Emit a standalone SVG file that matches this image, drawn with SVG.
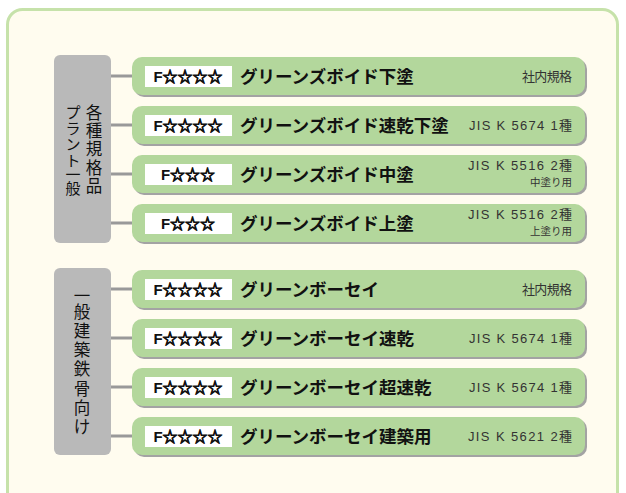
<svg xmlns="http://www.w3.org/2000/svg" width="626" height="493" viewBox="0 0 626 493">
<defs>
<style>
.panel{fill:#fffcef;stroke:#c6e2aa;stroke-width:3}
.cat{fill:#b9b9b9}
.conn{stroke:#999999;stroke-width:3;fill:none}
.shadow{fill:#a3a3a3}
.bar{fill:#b3d79c}
.lbl{fill:#ffffff}
.grade{font-family:"Liberation Sans","Noto Sans CJK JP",sans-serif;font-weight:700;font-size:15px;fill:#111;text-anchor:middle}
.st{font-family:"Noto Sans CJK JP",sans-serif;font-weight:700;stroke:#111;stroke-width:0.9;stroke-linejoin:round}
.name{font-family:"Noto Sans CJK JP",sans-serif;font-weight:700;font-size:17.5px;fill:#111;dominant-baseline:central}
.std{font-family:"Liberation Sans","Noto Sans CJK JP",sans-serif;font-size:13px;fill:#333;text-anchor:end;dominant-baseline:central}
.sub{font-family:"Noto Sans CJK JP",sans-serif;font-size:10.5px;fill:#333;text-anchor:end;dominant-baseline:central}
.vt{font-family:"Noto Sans CJK JP",sans-serif;font-size:16.5px;fill:#111;text-anchor:middle;dominant-baseline:central}
.vk{font-family:"Noto Sans CJK JP",sans-serif;font-size:15px;fill:#111;text-anchor:middle;dominant-baseline:central}
</style>
</defs>
<rect class="panel" x="7.5" y="9.5" width="610" height="500" rx="15"/>

<g id="connectors">
<line class="conn" x1="111" y1="76" x2="134" y2="76"/>
<line class="conn" x1="111" y1="125" x2="134" y2="125"/>
<line class="conn" x1="111" y1="174" x2="134" y2="174"/>
<line class="conn" x1="111" y1="223" x2="134" y2="223"/>
<line class="conn" x1="111" y1="289" x2="134" y2="289"/>
<line class="conn" x1="111" y1="338" x2="134" y2="338"/>
<line class="conn" x1="111" y1="387" x2="134" y2="387"/>
<line class="conn" x1="111" y1="436" x2="134" y2="436"/>
</g>

<g id="cat-plant">
<rect class="cat" x="54" y="55" width="57" height="188" rx="6"/>
<text class="vt" x="94" y="112">各</text>
<text class="vt" x="94" y="130">種</text>
<text class="vt" x="94" y="148">規</text>
<text class="vt" x="94" y="167">格</text>
<text class="vt" x="94" y="185">品</text>
<text class="vk" x="73" y="111">プ</text>
<text class="vk" x="73" y="127">ラ</text>
<text class="vk" x="73" y="143">ン</text>
<text class="vk" x="73" y="159">ト</text>
<text class="vk" x="73" y="173">一</text>
<text class="vk" x="73" y="187">般</text>
</g>

<g id="cat-building">
<rect class="cat" x="54" y="268" width="57" height="187" rx="6"/>
<text class="vt" x="82" y="295">一</text>
<text class="vt" x="82" y="311">般</text>
<text class="vt" x="82" y="330">建</text>
<text class="vt" x="82" y="349">築</text>
<text class="vt" x="82" y="368">鉄</text>
<text class="vt" x="82" y="388">骨</text>
<text class="vt" x="82" y="407">向</text>
<text class="vt" x="82" y="426">け</text>
</g>

<g id="p1">
<rect class="shadow" x="134" y="59" width="453" height="38" rx="10"/>
<rect class="bar" x="132" y="57" width="453" height="38" rx="10"/>
<rect class="lbl" x="145" y="66" width="87" height="21"/>
<text class="grade" x="188" y="81.5">F<tspan class="st">☆☆☆☆</tspan></text>
<text class="name" x="240" y="75.5">グリーンズボイド下塗</text>
<text class="std" x="572" y="76.5" textLength="50" lengthAdjust="spacing">社内規格</text>
</g>

<g id="p2">
<rect class="shadow" x="134" y="108" width="453" height="38" rx="10"/>
<rect class="bar" x="132" y="106" width="453" height="38" rx="10"/>
<rect class="lbl" x="145" y="115" width="87" height="21"/>
<text class="grade" x="188" y="130.5">F<tspan class="st">☆☆☆☆</tspan></text>
<text class="name" x="240" y="124.5">グリーンズボイド速乾下塗</text>
<text class="std" x="572" y="125" textLength="103" lengthAdjust="spacing">JIS K 5674 1種</text>
</g>

<g id="p3">
<rect class="shadow" x="134" y="157" width="453" height="38" rx="10"/>
<rect class="bar" x="132" y="155" width="453" height="38" rx="10"/>
<rect class="lbl" x="145" y="164" width="87" height="21"/>
<text class="grade" x="188" y="179.5">F<tspan class="st">☆☆☆</tspan></text>
<text class="name" x="240" y="173.5">グリーンズボイド中塗</text>
<text class="std" x="572" y="165.5" textLength="104" lengthAdjust="spacing">JIS K 5516 2種</text>
<text class="sub" x="572" y="181.5">中塗り用</text>
</g>

<g id="p4">
<rect class="shadow" x="134" y="206" width="453" height="38" rx="10"/>
<rect class="bar" x="132" y="204" width="453" height="38" rx="10"/>
<rect class="lbl" x="145" y="213" width="87" height="21"/>
<text class="grade" x="188" y="228.5">F<tspan class="st">☆☆☆</tspan></text>
<text class="name" x="240" y="222.5">グリーンズボイド上塗</text>
<text class="std" x="572" y="214.5" textLength="104" lengthAdjust="spacing">JIS K 5516 2種</text>
<text class="sub" x="572" y="230.5">上塗り用</text>
</g>

<g id="p5">
<rect class="shadow" x="134" y="272" width="453" height="38" rx="10"/>
<rect class="bar" x="132" y="270" width="453" height="38" rx="10"/>
<rect class="lbl" x="145" y="279" width="87" height="21"/>
<text class="grade" x="188" y="294.5">F<tspan class="st">☆☆☆☆</tspan></text>
<text class="name" x="240" y="288.5">グリーンボーセイ</text>
<text class="std" x="572" y="289.5" textLength="50" lengthAdjust="spacing">社内規格</text>
</g>

<g id="p6">
<rect class="shadow" x="134" y="321" width="453" height="38" rx="10"/>
<rect class="bar" x="132" y="319" width="453" height="38" rx="10"/>
<rect class="lbl" x="145" y="328" width="87" height="21"/>
<text class="grade" x="188" y="343.5">F<tspan class="st">☆☆☆☆</tspan></text>
<text class="name" x="240" y="337.5">グリーンボーセイ速乾</text>
<text class="std" x="572" y="338" textLength="103" lengthAdjust="spacing">JIS K 5674 1種</text>
</g>

<g id="p7">
<rect class="shadow" x="134" y="370" width="453" height="38" rx="10"/>
<rect class="bar" x="132" y="368" width="453" height="38" rx="10"/>
<rect class="lbl" x="145" y="377" width="87" height="21"/>
<text class="grade" x="188" y="392.5">F<tspan class="st">☆☆☆☆</tspan></text>
<text class="name" x="240" y="386.5">グリーンボーセイ超速乾</text>
<text class="std" x="572" y="387" textLength="103" lengthAdjust="spacing">JIS K 5674 1種</text>
</g>

<g id="p8">
<rect class="shadow" x="134" y="419" width="453" height="38" rx="10"/>
<rect class="bar" x="132" y="417" width="453" height="38" rx="10"/>
<rect class="lbl" x="145" y="426" width="87" height="21"/>
<text class="grade" x="188" y="441.5">F<tspan class="st">☆☆☆☆</tspan></text>
<text class="name" x="240" y="435.5">グリーンボーセイ建築用</text>
<text class="std" x="572" y="436" textLength="104" lengthAdjust="spacing">JIS K 5621 2種</text>
</g>
</svg>
